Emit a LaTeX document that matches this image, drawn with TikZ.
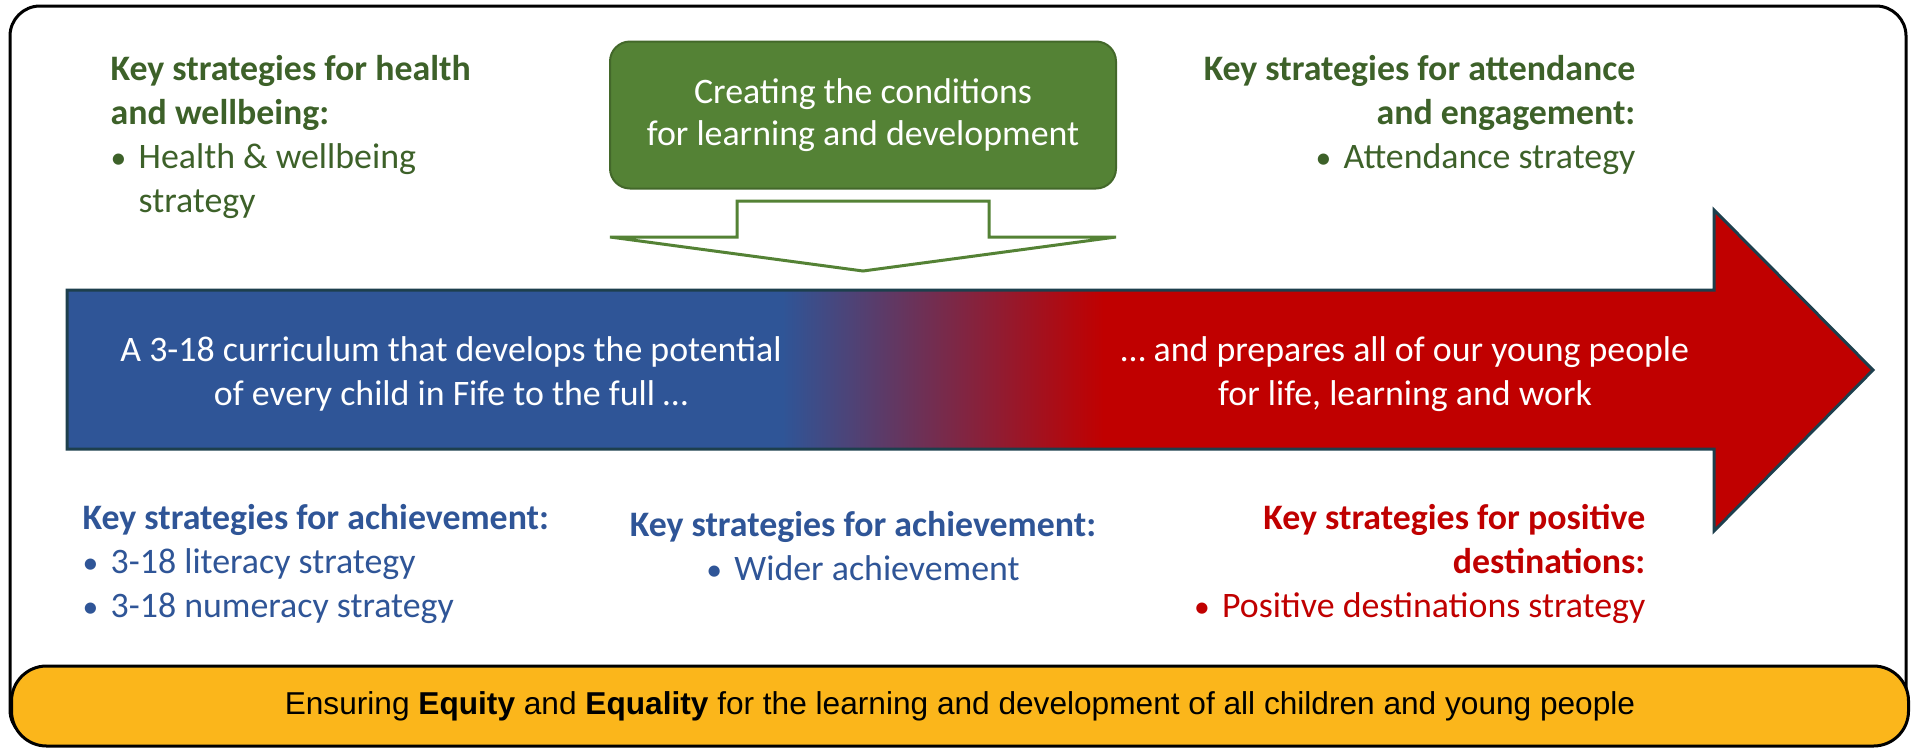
\documentclass[tikz,border=0pt]{standalone}
\usepackage{fontspec}
\setmainfont{Carlito}
\newfontfamily\arialfont{Liberation Sans}
\usetikzlibrary{positioning,calc}
\usepackage{xcolor}

\definecolor{condgreen}{HTML}{548235}
\definecolor{headgreen}{HTML}{3D6129}
\definecolor{fifeblue}{HTML}{2F5597}
\definecolor{fifered}{HTML}{C00000}
\definecolor{arrowedge}{HTML}{1D3F4D}
\definecolor{equityyellow}{HTML}{FBB61B}

% blue part, then a short blend, then red (25bp = left end, 75bp = tip)
\pgfdeclarehorizontalshading{bluetored}{100bp}{color(0bp)=(fifeblue); color(44.8bp)=(fifeblue); color(53.7bp)=(fifered); color(100bp)=(fifered)}

\newcommand{\bulletitem}{\makebox[2.8mm][l]{\small•}}

\begin{document}
\begin{tikzpicture}[
			x=0.1mm, y=-0.1mm,
			keytext/.style={inner sep=0pt, font=\fontsize{10.2}{12.5}\selectfont},
			arrowtext/.style={inner sep=0pt, align=center, text=white, font=\fontsize{10.2}{12.5}\selectfont}
			]
			\useasboundingbox (0,0) rectangle (1913,747);
			
			% Outer frame
			\draw[line width=0.3mm, rounded corners=3mm, fill=white] (10,6) rectangle (1906,740);
			
			% Conditions box
			\node[draw=condgreen!80!black, fill=condgreen, rounded corners=2mm, line width=0.2mm,
				minimum width=50.6mm, minimum height=14.7mm, align=center, text=white,
				font=\fontsize{10.2}{12.0}\selectfont] (cond) at (863,115)
				{Creating the conditions\\for learning and development};
			
			% Hollow arrow under the box
			\draw[condgreen, line width=0.3mm, fill=white]
				(737,201) -- (989,201) -- (989,237) -- (1116,237) -- (863,271)
				-- (610,237) -- (737,237) -- cycle;
			
			% Main arrow
			\draw[shade, shading=bluetored, draw=arrowedge, line width=0.3mm]
				(67,290) -- (1714,290) -- (1714,210) -- (1873,370) -- (1714,531)
				-- (1714,449) -- (67,449) -- cycle;
			
			\node[arrowtext] (develop) at (451,374)
				{A 3-18 curriculum that develops the potential\\of every child in Fife to the full \dots};
			\node[arrowtext] (prepare) at (1405,374)
				{\dots\ and prepares all of our young people\\for life, learning and work};
			
			% Strategy texts
			\node[keytext, text=headgreen, align=left, anchor=north west] (health) at (110,55)
				{\textbf{Key strategies for health}\\\textbf{and wellbeing:}\\
				\bulletitem Health \& wellbeing\\\hspace*{2.8mm}strategy};
			\node[keytext, text=headgreen, align=right, anchor=north east] (attend) at (1636,55)
				{\textbf{Key strategies for attendance}\\\textbf{and engagement:}\\
				\bulletitem Attendance strategy};
			\node[keytext, text=fifeblue, align=left, anchor=north west] (achieve) at (82,504)
				{\textbf{Key strategies for achievement:}\\
				\bulletitem 3-18 literacy strategy\\
				\bulletitem 3-18 numeracy strategy};
			\node[keytext, text=fifeblue, align=center, anchor=north] (wider) at (863,511)
				{\textbf{Key strategies for achievement:}\\
				\bulletitem Wider achievement};
			\node[keytext, text=fifered, align=right, anchor=north east] (destin) at (1646,504)
				{\textbf{Key strategies for positive}\\\textbf{destinations:}\\
				\bulletitem Positive destinations strategy};
			
			% Equity bar
			\node[draw=black, line width=0.3mm, fill=equityyellow, rounded corners=3.5mm,
				minimum width=189.7mm, minimum height=8mm,
				font=\arialfont\fontsize{9.0}{10.5}\selectfont] (equity) at (960,706)
				{Ensuring \textbf{Equity} and \textbf{Equality} for the learning and development of all children and young people};
			
		\end{tikzpicture}
\end{document}
